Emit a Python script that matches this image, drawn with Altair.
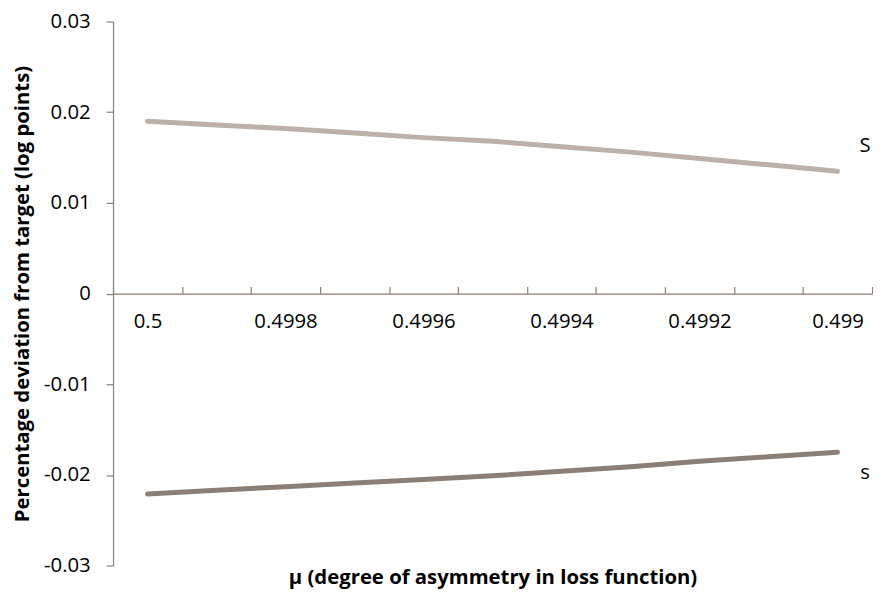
import altair as alt
import pandas as pd

# ---- data ----
mu = [0.5, 0.4999, 0.4998, 0.4997, 0.4996, 0.4995, 0.4994, 0.4993, 0.4992, 0.4991, 0.499]
S_vals = [0.0190, 0.0186, 0.0182, 0.0177, 0.0172, 0.0168, 0.0162, 0.0156, 0.0149, 0.0142, 0.0135]
s_vals = [-0.0221, -0.0217, -0.0213, -0.0209, -0.0205, -0.0201, -0.0196, -0.0191, -0.0185, -0.0180, -0.0175]
series_names = ["S", "s"]
series_colors = ["#bcb0a8", "#8b7e74"]

x_label_values = [0.5, 0.4998, 0.4996, 0.4994, 0.4992, 0.499]
x_tick_bounds = [0.50005, 0.49995, 0.49985, 0.49975, 0.49965, 0.49955,
                 0.49945, 0.49935, 0.49925, 0.49915, 0.49905, 0.49895]
y_ticks = [-0.03, -0.02, -0.01, 0, 0.01, 0.02, 0.03]

label_text = ["S", "s"]
label_mu = [0.49896, 0.49896]
label_val = [0.0163, -0.0198]

FONT = "Open Sans"
AX = "#8b7e74"
FS = 20.5
TFS = 20.5
H = 549
HALF = H / 2

rows = []
for name, vals in zip(series_names, [S_vals, s_vals]):
    for m, v in zip(mu, vals):
        rows.append({"mu": m, "value": v, "series": name})
df = pd.DataFrame(rows)
lab = pd.DataFrame({"mu": label_mu, "value": label_val, "label": label_text})

xscale = alt.Scale(domain=[0.49895, 0.50005], reverse=True, nice=False, zero=False)
yscale = alt.Scale(domain=[-0.03, 0.03], nice=False)

yaxis = alt.Axis(
    orient="left", values=y_ticks, grid=False,
    tickSize=7, tickColor=AX, domainColor=AX, domainWidth=1.2, tickWidth=1.2,
    labelFont=FONT, labelFontSize=FS, labelColor="black", labelPadding=16,
    labelFlush=False, labelOverlap=False,
    labelExpr="datum.value == 0 ? '0' : replace(format(datum.value, '.2f'), '\u2212', '-')",
    title="Percentage deviation from target (log points)",
    titleFont=FONT, titleFontSize=TFS, titleFontWeight="bold", titleColor="black",
    titleX=-91, titleY=HALF, titleAngle=270, titleBaseline="middle", titleAlign="center")

lines = alt.Chart(df).mark_line(strokeWidth=5, strokeCap="round").encode(
    x=alt.X("mu:Q", scale=xscale, axis=alt.Axis(
        orient="bottom", offset=-HALF, values=x_label_values, format="~g",
        ticks=False, tickSize=0, domain=False, grid=False,
        labelFont=FONT, labelFontSize=FS, labelColor="black", labelPadding=18,
        labelFlush=False, labelOverlap=False,
        title="μ (degree of asymmetry in loss function)",
        titleFont=FONT, titleFontSize=TFS, titleFontWeight="bold", titleColor="black",
        titleX=383, titleY=287, titleBaseline="middle", titleAlign="center")),
    y=alt.Y("value:Q", scale=yscale, axis=yaxis),
    color=alt.Color("series:N", scale=alt.Scale(domain=series_names, range=series_colors), legend=None),
)

labels = alt.Chart(lab).mark_text(font=FONT, fontSize=FS, color="black", align="center", baseline="middle").encode(
    x=alt.X("mu:Q", scale=xscale, axis=alt.Axis(
        orient="top", offset=-HALF, values=x_tick_bounds, labels=False, ticks=True,
        tickSize=7, tickColor=AX, tickWidth=1.2, domain=True, domainColor=AX, domainWidth=1.2,
        grid=False, title=None)),
    y=alt.Y("value:Q", scale=yscale, axis=yaxis),
    text="label:N",
)

chart = alt.layer(lines, labels).resolve_axis(x="independent").properties(
    width=766, height=H,
    autosize=alt.AutoSizeParams(type="none"),
    padding={"left": 106, "top": 11, "right": 1, "bottom": 25},
    background="white",
).configure_view(strokeWidth=0)

chart.save("out.html", embed_options={"renderer": "svg", "actions": False})
